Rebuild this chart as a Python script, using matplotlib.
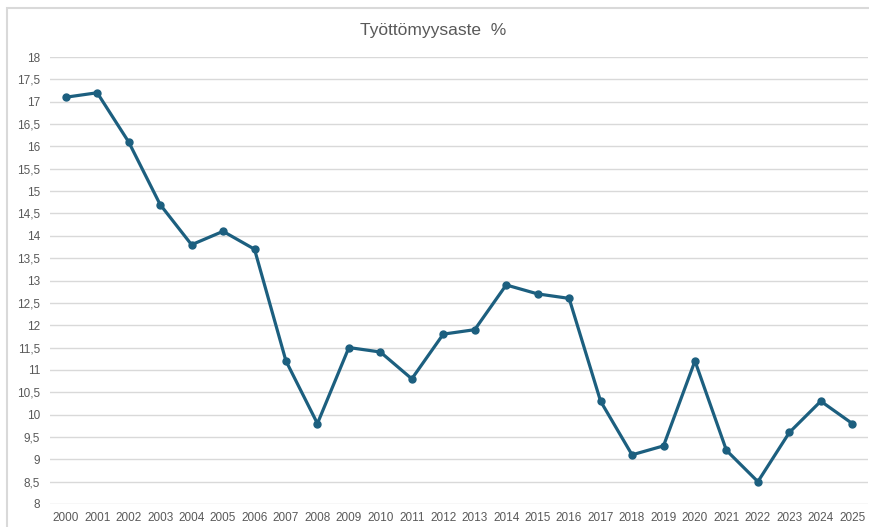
import matplotlib
matplotlib.use("Agg")
import matplotlib.pyplot as plt
from matplotlib.patches import Rectangle

years = [str(y) for y in range(2000, 2026)]
values = [17.1, 17.2, 16.1, 14.7, 13.8, 14.1, 13.7, 11.2, 9.8, 11.5, 11.4, 10.8,
          11.8, 11.9, 12.9, 12.7, 12.6, 10.3, 9.1, 9.3, 11.2, 9.2, 8.5, 9.6, 10.3, 9.8]
yticks = [8 + 0.5 * i for i in range(21)]
title = "Työttömyysaste  %"

plt.rcParams['font.family'] = ['Liberation Sans', 'DejaVu Sans']

W, H = 870, 527
fig = plt.figure(figsize=(W / 100, H / 100), dpi=100)
fig.patches.append(Rectangle((7 / W, -0.01), 1.0, 1 - 8 / H + 0.01, transform=fig.transFigure,
                             fill=False, edgecolor='#d9d9d9', linewidth=1.5))
ax = fig.add_axes([50 / W, 1 - 504 / H, 818 / W, 447 / H])

x = list(range(len(years)))
ax.plot(x, values, color='#1c5f7f', linewidth=2.3, marker='o', markersize=5, zorder=3)

ax.set_xlim(-0.5, len(years) - 0.5)
ax.set_ylim(8, 18)
ax.set_yticks(yticks)
ax.set_yticklabels([("%g" % t).replace('.', ',') for t in yticks])
ax.set_xticks(x)
ax.set_xticklabels(years)
ax.grid(axis='y', color='#d9d9d9', linewidth=1)
ax.set_axisbelow(True)
for s in ax.spines.values():
    s.set_visible(False)
ax.tick_params(axis='both', length=0, labelsize=8.5, colors='#595959')
ax.tick_params(axis='y', pad=7)
ax.tick_params(axis='x', pad=6)

fig.text(433 / W, 1 - 31 / H, title, ha='center', va='center', fontsize=12.5, color='#595959')

fig.savefig("out.png", dpi=100)
